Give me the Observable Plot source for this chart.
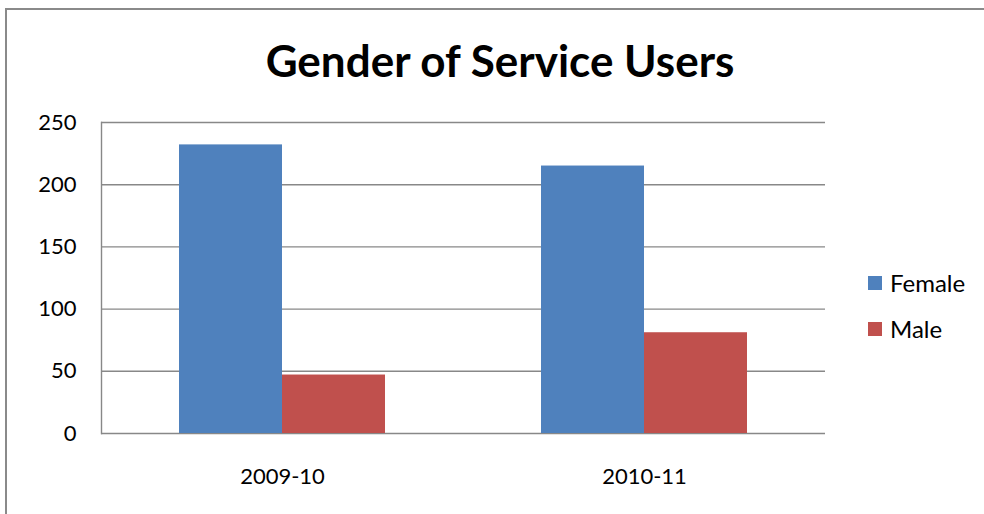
<!DOCTYPE html>
<html>
<head>
<meta charset="utf-8">
<script src="https://cdn.jsdelivr.net/npm/d3@7"></script>
<script src="https://cdn.jsdelivr.net/npm/@observablehq/plot@0.6"></script>
<style>
  html, body { margin: 0; padding: 0; background: #fff; overflow: hidden; }
  #wrap { position: relative; width: 984px; height: 514px; overflow: hidden; font-family: Lato, "Open Sans", sans-serif; }
  #border-top { position: absolute; left: 5px; top: 8px; width: 979px; height: 2px; background: #8a8a8a; }
  #border-left { position: absolute; left: 5px; top: 8px; width: 2px; height: 506px; background: #8a8a8a; }
  #title { position: absolute; left: 0; top: 32px; width: 1000px; text-align: center; font-weight: bold; font-size: 44px; line-height: 56px; color: #000; }
  #chart { position: absolute; left: 0; top: 0; }
  .leg { position: absolute; left: 868px; font-size: 24px; line-height: 28px; color: #000; display: flex; align-items: center; }
  .leg .sw { width: 14px; height: 14px; margin-right: 8px; }
</style>
</head>
<body>
<div id="wrap">
  <div id="border-top"></div>
  <div id="border-left"></div>
  <div id="title">Gender of Service Users</div>
  <div id="chart"></div>
  <div id="legend"></div>
</div>
<script>
const years = ["2009-10", "2010-11"];
const genders = ["Female", "Male"];
const femaleValues = [232, 215];
const maleValues = [47, 81];
const yTicks = [0, 50, 100, 150, 200, 250];
const colors = ["#4F81BD", "#C0504D"];

const data = years.flatMap((yr, i) => [
  {year: yr, gender: "Female", value: femaleValues[i]},
  {year: yr, gender: "Male", value: maleValues[i]}
]);

const gridColor = "#888888";

const chart = Plot.plot({
  width: 984,
  height: 514,
  marginLeft: 100,
  marginRight: 159,
  marginTop: 122,
  marginBottom: 81,
  style: {fontFamily: "Lato, 'Open Sans', sans-serif", fontSize: "22px", color: "#000", background: "transparent"},
  fx: {domain: years, padding: 0, label: null},
  x: {domain: genders, paddingInner: 0, paddingOuter: 0.75, axis: null},
  y: {domain: [0, 250], label: null},
  color: {domain: genders, range: colors},
  marks: [
    Plot.ruleY(yTicks, {stroke: gridColor, strokeWidth: 1.4}),
    Plot.frame({anchor: "left", facetAnchor: "left", stroke: gridColor, strokeWidth: 1.4}),
    Plot.barY(data, {fx: "year", x: "gender", y: "value", fill: "gender"}),
    Plot.axisY(yTicks, {tickSize: 0, tickPadding: 25, label: null, fontSize: 22}),
    Plot.axisFx({anchor: "bottom", tickSize: 0, tickPadding: 35, label: null, fontSize: 22})
  ]
});
document.getElementById("chart").appendChild(chart);

const legend = document.getElementById("legend");
const legendTops = [269, 315];
genders.forEach((g, i) => {
  const item = document.createElement("div");
  item.className = "leg";
  item.style.top = legendTops[i] + "px";
  const sw = document.createElement("div");
  sw.className = "sw";
  sw.style.background = colors[i];
  const label = document.createElement("span");
  label.textContent = g;
  item.appendChild(sw);
  item.appendChild(label);
  legend.appendChild(item);
});
</script>
</body>
</html>
